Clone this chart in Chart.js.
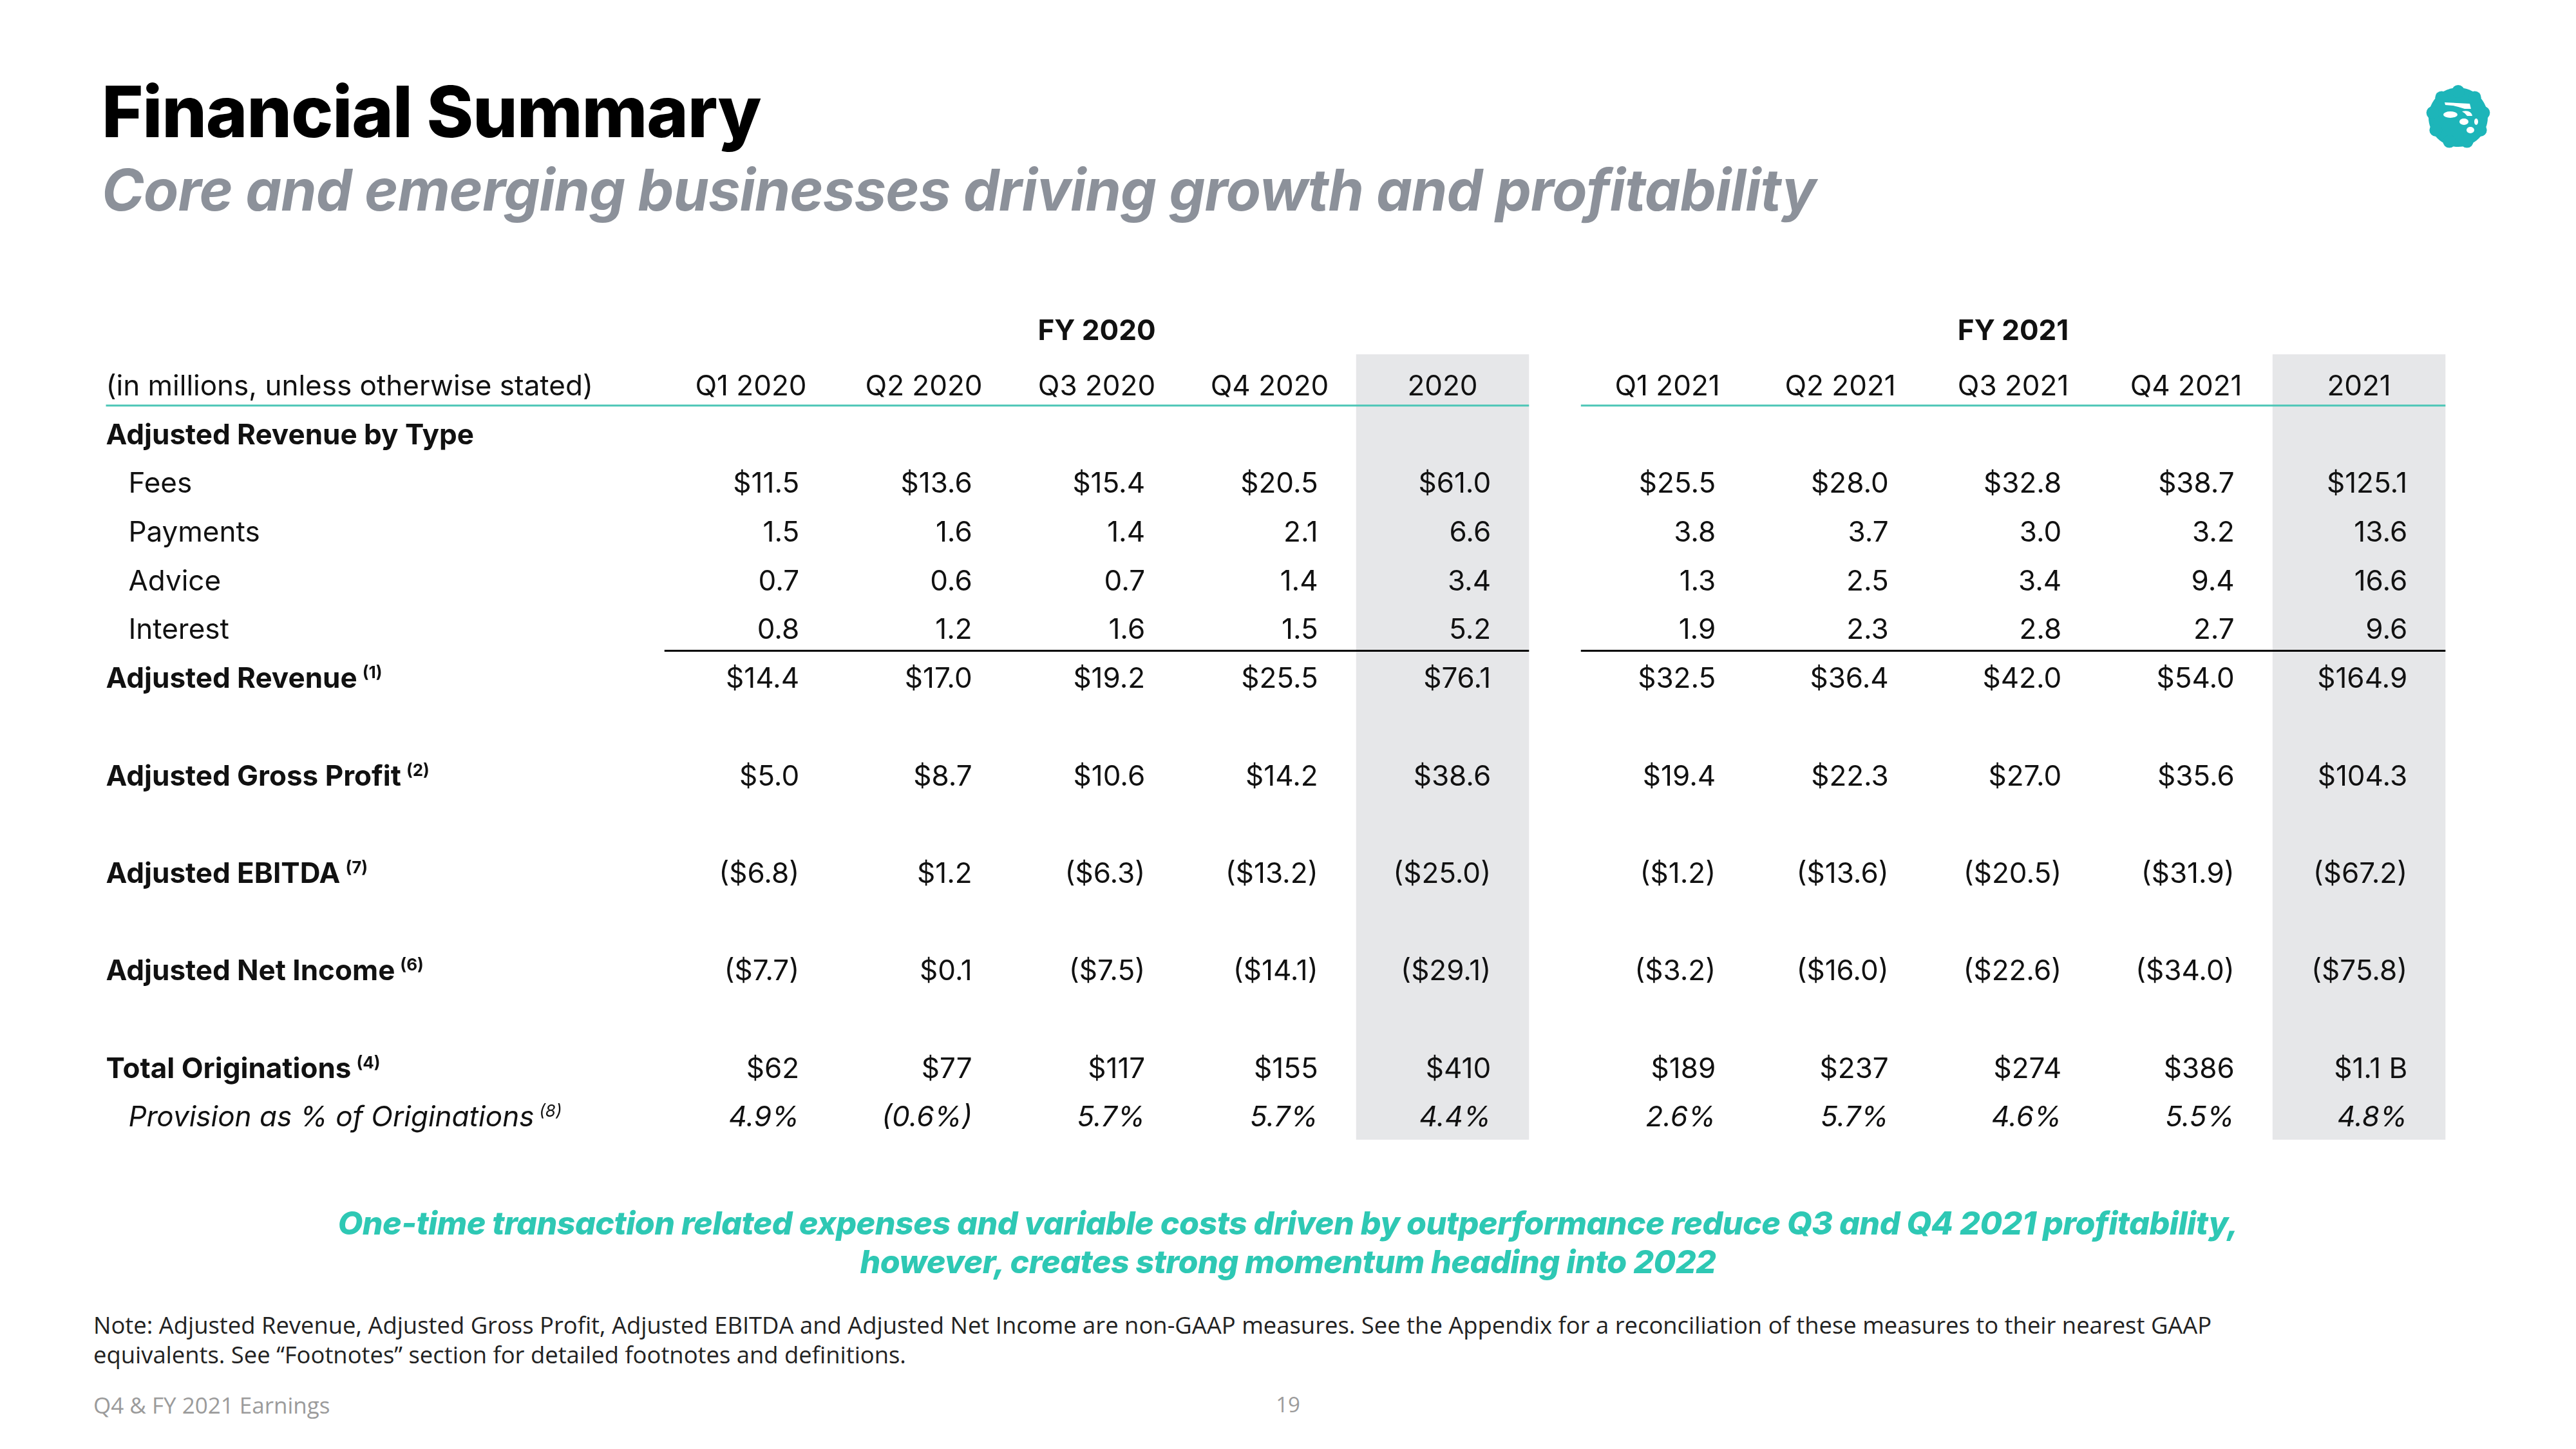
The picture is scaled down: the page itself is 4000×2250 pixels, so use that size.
<!DOCTYPE html>
<html>
<head>
<meta charset="utf-8">
<script src="https://cdn.jsdelivr.net/npm/chart.js@4.4.1/dist/chart.umd.min.js"></script>
<style>
  html, body { margin: 0; padding: 0; background: #fff; }
  body { width: 4000px; height: 2250px; position: relative; overflow: hidden; font-family: Inter, sans-serif; }
  .abs { position: absolute; white-space: nowrap; line-height: 1; }
  #title { left: 158px; top: 118px; font-size: 110px; font-weight: 800; color: #000; letter-spacing: -1.2px; }
  #subtitle { left: 158px; top: 250px; font-size: 89px; font-weight: 700; font-style: italic; color: #8c919a; letter-spacing: -1px; }
  #callout { left: 0; width: 4000px; top: 1869px; text-align: center; font-size: 50px; font-weight: 800; font-style: italic; color: #2ec8b4; line-height: 60px; letter-spacing: -0.5px; }
  #note { left: 145px; top: 2034px; font-family: "Open Sans", sans-serif; font-size: 36.4px; color: #222; line-height: 46px; }
  #footer { left: 145px; top: 2164px; font-family: "Open Sans", sans-serif; font-size: 35px; color: #9b9b9b; }
  #page { left: 1960px; width: 80px; text-align: center; top: 2164px; font-family: "Open Sans", sans-serif; font-size: 33px; color: #9b9b9b; }
  #logo { position: absolute; left: 3762px; top: 127px; width: 110px; height: 110px; }
  #tableWrap { position: absolute; left: 91.5px; top: 447.6px; width: 3759px; height: 1362.6px; }
</style>
</head>
<body>
<div id="title" class="abs">Financial Summary</div>
<div id="subtitle" class="abs">Core and emerging businesses driving growth and profitability</div>
<svg id="logo" viewBox="-55 -55 110 110">
  <circle r="46" fill="#1db5b9"/>
  <g fill="#1db5b9">
    <circle cx="0" cy="-40" r="10"/><circle cx="25.7" cy="-30.6" r="10"/><circle cx="39.4" cy="-6.9" r="10"/>
    <circle cx="34.6" cy="20" r="10"/><circle cx="13.7" cy="37.6" r="10"/><circle cx="-13.7" cy="37.6" r="10"/>
    <circle cx="-34.6" cy="20" r="10"/><circle cx="-39.4" cy="-6.9" r="10"/><circle cx="-25.7" cy="-30.6" r="10"/>
  </g>
  <g fill="#fff">
    <path d="M-21 -23 L18 -21 L20 -13 L10 -13 Q2 -16 -8 -18 L-20 -19 Z"/>
    <ellipse cx="-12" cy="-4" rx="11" ry="5"/>
    <ellipse cx="9" cy="7" rx="7" ry="5"/>
    <ellipse cx="28" cy="7" rx="3" ry="5"/>
    <ellipse cx="19" cy="20" rx="6" ry="5"/>
    <path d="M6 -9 Q20 -12 22 -2 L14 -2 Q10 -7 6 -9 Z"/>
  </g>
</svg>
<div id="tableWrap"><canvas id="table"></canvas></div>
<div id="callout" class="abs">One-time transaction related expenses and variable costs driven by outperformance reduce Q3 and Q4 2021 profitability,<br>however, creates strong momentum heading into 2022</div>
<div id="note" class="abs">Note: Adjusted Revenue, Adjusted Gross Profit, Adjusted EBITDA and Adjusted Net Income are non-GAAP measures. See the Appendix for a reconciliation of these measures to their nearest GAAP<br>equivalents. See “Footnotes” section for detailed footnotes and definitions.</div>
<div id="footer" class="abs">Q4 &amp; FY 2021 Earnings</div>
<div id="page" class="abs">19</div>

<script>
// column headers and groups
const columns = ["Q1 2020", "Q2 2020", "Q3 2020", "Q4 2020", "2020", "Q1 2021", "Q2 2021", "Q3 2021", "Q4 2021", "2021"];
const groups = ["FY 2020", "FY 2021"];
const unitsNote = "(in millions, unless otherwise stated)";

// row labels and footnote marks
const rowLabels = ["Adjusted Revenue by Type", "Fees", "Payments", "Advice", "Interest", "Adjusted Revenue",
  "Adjusted Gross Profit", "Adjusted EBITDA", "Adjusted Net Income", "Total Originations", "Provision as % of Originations"];
const footnotes = ["", "", "", "", "", "(1)", "(2)", "(7)", "(6)", "(4)", "(8)"];

// values, $ millions (originations: $ millions, provision: %)
const fees = [11.5, 13.6, 15.4, 20.5, 61.0, 25.5, 28.0, 32.8, 38.7, 125.1];
const payments = [1.5, 1.6, 1.4, 2.1, 6.6, 3.8, 3.7, 3.0, 3.2, 13.6];
const advice = [0.7, 0.6, 0.7, 1.4, 3.4, 1.3, 2.5, 3.4, 9.4, 16.6];
const interest = [0.8, 1.2, 1.6, 1.5, 5.2, 1.9, 2.3, 2.8, 2.7, 9.6];
const adjRevenue = [14.4, 17.0, 19.2, 25.5, 76.1, 32.5, 36.4, 42.0, 54.0, 164.9];
const grossProfit = [5.0, 8.7, 10.6, 14.2, 38.6, 19.4, 22.3, 27.0, 35.6, 104.3];
const ebitda = [-6.8, 1.2, -6.3, -13.2, -25.0, -1.2, -13.6, -20.5, -31.9, -67.2];
const netIncome = [-7.7, 0.1, -7.5, -14.1, -29.1, -3.2, -16.0, -22.6, -34.0, -75.8];
const originations = [62, 77, 117, 155, 410, 189, 237, 274, 386, 1100];
const provisionPct = [4.9, -0.6, 5.7, 5.7, 4.4, 2.6, 5.7, 4.6, 5.5, 4.8];

// layout: column slots on the x scale, row slots on the y scale
const colPos = [0, 1, 2, 3, 4, 5.3, 6.3, 7.3, 8.3, 9.3];
const labelX = -3.73;
const indentX = -3.6;

function money(v) {
  const s = "$" + Math.abs(v).toFixed(1);
  return v < 0 ? "(" + s + ")" : s;
}
function plain(v) { return v.toFixed(1); }
function bigMoney(v) { return v >= 1000 ? "$" + (v / 1000).toFixed(1) + " B" : "$" + v; }
function pct(v) {
  const s = Math.abs(v).toFixed(1) + "%";
  return v < 0 ? "(" + s + ")" : s;
}

const FONT = "Inter";
const rows = [
  { label: 0, y: 1, labelStyle: "bold" },
  { label: 1, y: 2, labelStyle: "indent", values: fees, fmt: money },
  { label: 2, y: 3, labelStyle: "indent", values: payments, fmt: plain },
  { label: 3, y: 4, labelStyle: "indent", values: advice, fmt: plain },
  { label: 4, y: 5, labelStyle: "indent", values: interest, fmt: plain },
  { label: 5, y: 6, labelStyle: "bold", values: adjRevenue, fmt: money },
  { label: 6, y: 8, labelStyle: "bold", values: grossProfit, fmt: money },
  { label: 7, y: 10, labelStyle: "bold", values: ebitda, fmt: money },
  { label: 8, y: 12, labelStyle: "bold", values: netIncome, fmt: money },
  { label: 9, y: 14, labelStyle: "bold", values: originations, fmt: bigMoney },
  { label: 10, y: 15, labelStyle: "italic", values: provisionPct, fmt: pct, italic: true }
];

const datasets = [];
// header row
datasets.push({
  kind: "header",
  data: columns.map((c, i) => ({ x: colPos[i], y: 0 })),
  texts: columns
});
datasets.push({
  kind: "group",
  data: groups.map((g, i) => ({ x: colPos[i * 5 + 2], y: -1.14 })),
  texts: groups
});
datasets.push({
  kind: "rowLabel",
  data: [{ x: labelX, y: 0 }].concat(rows.map(r => ({ x: r.labelStyle === "bold" ? labelX : indentX, y: r.y }))),
  texts: [unitsNote].concat(rows.map(r => rowLabels[r.label])),
  styles: ["plain"].concat(rows.map(r => r.labelStyle)),
  notes: [""].concat(rows.map(r => footnotes[r.label]))
});
rows.filter(r => r.values).forEach(r => {
  datasets.push({
    kind: "cell",
    italic: !!r.italic,
    data: r.values.map((v, i) => ({ x: colPos[i], y: r.y })),
    texts: r.values.map(r.fmt)
  });
});
datasets.forEach(d => { d.pointRadius = 0; d.pointHoverRadius = 0; });

const tablePlugin = {
  id: "tablePlugin",
  beforeDatasetsDraw(chart) {
    const { ctx, scales: { x, y } } = chart;
    ctx.save();
    // shaded full-year columns
    ctx.fillStyle = "#e6e7e9";
    [4, 9].forEach(i => {
      const l = x.getPixelForValue(colPos[i] - 0.5), r = x.getPixelForValue(colPos[i] + 0.5);
      const t = y.getPixelForValue(-0.65), b = y.getPixelForValue(15.46);
      ctx.fillRect(l, t, r - l, b - t);
    });
    // teal rule below header
    ctx.strokeStyle = "#4cc6b6";
    ctx.lineWidth = 3;
    const ty = y.getPixelForValue(0.4);
    ctx.beginPath();
    ctx.moveTo(x.getPixelForValue(labelX), ty); ctx.lineTo(x.getPixelForValue(colPos[4] + 0.5), ty);
    ctx.moveTo(x.getPixelForValue(colPos[5] - 0.5), ty); ctx.lineTo(x.getPixelForValue(colPos[9] + 0.5), ty);
    ctx.stroke();
    // black total rule
    ctx.strokeStyle = "#000";
    const by = y.getPixelForValue(5.43);
    ctx.beginPath();
    ctx.moveTo(x.getPixelForValue(colPos[0] - 0.5), by); ctx.lineTo(x.getPixelForValue(colPos[4] + 0.5), by);
    ctx.moveTo(x.getPixelForValue(colPos[5] - 0.5), by); ctx.lineTo(x.getPixelForValue(colPos[9] + 0.5), by);
    ctx.stroke();
    ctx.restore();
  },
  afterDatasetsDraw(chart) {
    const { ctx, scales: { x } } = chart;
    const unit = x.getPixelForValue(1) - x.getPixelForValue(0);
    const size = 44;
    const cap = size * 0.33;
    ctx.save();
    ctx.fillStyle = "#111";
    ctx.textBaseline = "alphabetic";
    chart.data.datasets.forEach((ds, di) => {
      const meta = chart.getDatasetMeta(di);
      meta.data.forEach((el, i) => {
        const text = ds.texts[i];
        const py = el.y + cap;
        if (ds.kind === "header") {
          ctx.font = `400 ${size}px ${FONT}`;
          ctx.textAlign = "center";
          ctx.fillText(text, el.x, py);
        } else if (ds.kind === "group") {
          ctx.font = `700 ${size}px ${FONT}`;
          ctx.textAlign = "center";
          ctx.fillText(text, el.x, py);
        } else if (ds.kind === "cell") {
          ctx.font = `${ds.italic ? "italic " : ""}400 ${size}px ${FONT}`;
          ctx.textAlign = "right";
          ctx.fillText(text, el.x + unit * 0.28, py);
        } else if (ds.kind === "rowLabel") {
          const st = ds.styles[i];
          ctx.font = st === "bold" ? `700 ${size}px ${FONT}` : st === "italic" ? `italic 400 ${size}px ${FONT}` : `400 ${size}px ${FONT}`;
          ctx.textAlign = "left";
          ctx.fillText(text, el.x, py);
          if (ds.notes[i]) {
            const w = ctx.measureText(text).width;
            ctx.font = `${st === "italic" ? "italic 400" : "700"} 26px ${FONT}`;
            ctx.fillText(ds.notes[i], el.x + w + 8, py - 15);
          }
        }
      });
    });
    ctx.restore();
  }
};

new Chart(document.getElementById("table"), {
  type: "scatter",
  data: { datasets },
  options: {
    responsive: true,
    maintainAspectRatio: false,
    animation: false,
    events: [],
    layout: { padding: 0 },
    plugins: { legend: { display: false }, tooltip: { enabled: false } },
    scales: {
      x: { type: "linear", min: -4, max: 10, display: false },
      y: { type: "linear", min: -2, max: 16, reverse: true, display: false }
    }
  },
  plugins: [tablePlugin]
});
</script>
</body>
</html>
